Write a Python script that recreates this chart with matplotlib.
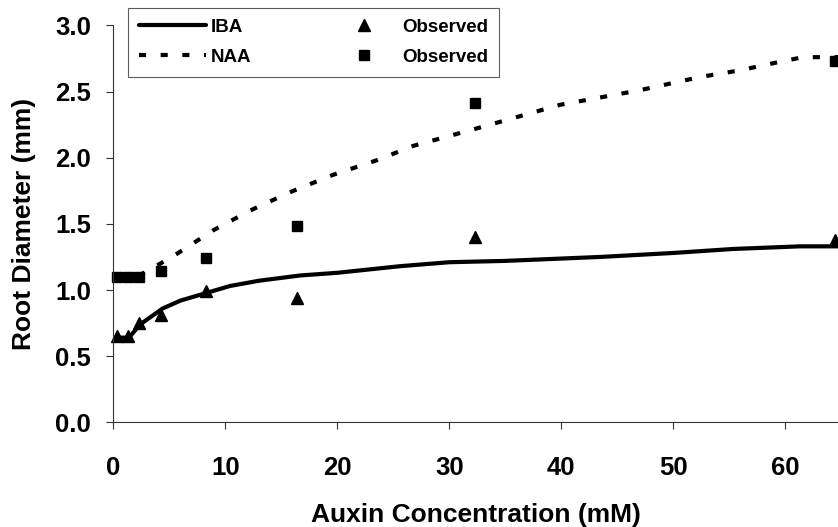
import matplotlib
matplotlib.use("Agg")
import matplotlib.pyplot as plt

# Observed data
obs_x = [0.3, 1.3, 2.3, 4.3, 8.3, 16.4, 32.3, 64.4]
iba_obs = [0.65, 0.65, 0.75, 0.81, 0.99, 0.94, 1.40, 1.38]
naa_obs = [1.10, 1.10, 1.10, 1.14, 1.24, 1.48, 2.41, 2.73]

# Fitted curves
iba_fit_x = [0.3, 1.4, 2.4, 4.4, 6.0, 8.4, 10.4, 13.0, 16.7, 20.0, 25.6, 30.0, 35.0, 43.5, 50.0, 55.3, 61.3, 64.7]
iba_fit_y = [0.64, 0.64, 0.74, 0.86, 0.92, 0.98, 1.03, 1.07, 1.11, 1.13, 1.18, 1.21, 1.22, 1.25, 1.28, 1.31, 1.33, 1.33]
naa_fit_x = [0.3, 1.3, 2.3, 4.2, 5.8, 8.9, 12.2, 15.8, 19.6, 23.5, 26.8, 32.4, 39.9, 47.0, 52.4, 55.9, 59.8, 61.6, 64.7]
naa_fit_y = [1.10, 1.10, 1.11, 1.20, 1.28, 1.45, 1.60, 1.74, 1.87, 1.98, 2.09, 2.22, 2.40, 2.51, 2.61, 2.66, 2.73, 2.76, 2.76]

xticks = [0, 10, 20, 30, 40, 50, 60]
yticks = [0.0, 0.5, 1.0, 1.5, 2.0, 2.5, 3.0]

plt.rcParams['font.family'] = ['Liberation Sans', 'DejaVu Sans']
plt.rcParams['font.weight'] = 'bold'

W, H = 838, 527
fig = plt.figure(figsize=(W / 100, H / 100), dpi=100)
x0, y0 = 113.3, 422.3
x1, y1 = 838.0, 25.4
ax = fig.add_axes([x0 / W, 1 - y0 / H, (x1 - x0) / W, (y0 - y1) / H])
ax.set_xlim(0, 64.7)
ax.set_ylim(0, 3.0)

ax.plot(iba_fit_x, iba_fit_y, color='black', lw=3, solid_capstyle='round', label='IBA', clip_on=False)
ax.plot(naa_fit_x, naa_fit_y, color='black', lw=3, linestyle=(0, (1.7, 3.5)), dash_capstyle='butt', label='NAA', clip_on=False)
ax.plot(obs_x, iba_obs, linestyle='none', marker='^', ms=9, color='black', label='Observed', clip_on=False)
ax.plot(obs_x, naa_obs, linestyle='none', marker='s', ms=7, color='black', label='Observed', clip_on=False)

for s in ['top', 'right']:
    ax.spines[s].set_visible(False)
for s in ['left', 'bottom']:
    ax.spines[s].set_linewidth(0.8)
    ax.spines[s].set_color('#333333')

ax.set_xticks(xticks)
ax.set_yticks(yticks)
ax.set_yticklabels([f"{v:.1f}" for v in yticks])
ax.tick_params(axis='both', direction='out', length=5, width=0.8, color='#333333', labelsize=18.5)
ax.tick_params(axis='x', pad=19.5)
ax.tick_params(axis='y', pad=11)

ax.set_xlabel('Auxin Concentration (mM)', fontsize=19, fontweight='bold', labelpad=16.5)
ax.set_ylabel('Root Diameter (mm)', fontsize=19, fontweight='bold', labelpad=13.5)

handles, labels = ax.get_legend_handles_labels()
leg = fig.legend(handles, labels, ncol=2, loc='upper left',
                 bbox_to_anchor=(128 / W, 1 - 8 / H), borderaxespad=0,
                 handlelength=3.6, handletextpad=0.25, columnspacing=4.2,
                 labelspacing=0.68, borderpad=0.58, fancybox=False, frameon=True,
                 prop={'weight': 'bold', 'size': 13.5})
leg.get_frame().set_edgecolor('#333333')
leg.get_frame().set_linewidth(0.8)

fig.savefig('out.png', dpi=100)
